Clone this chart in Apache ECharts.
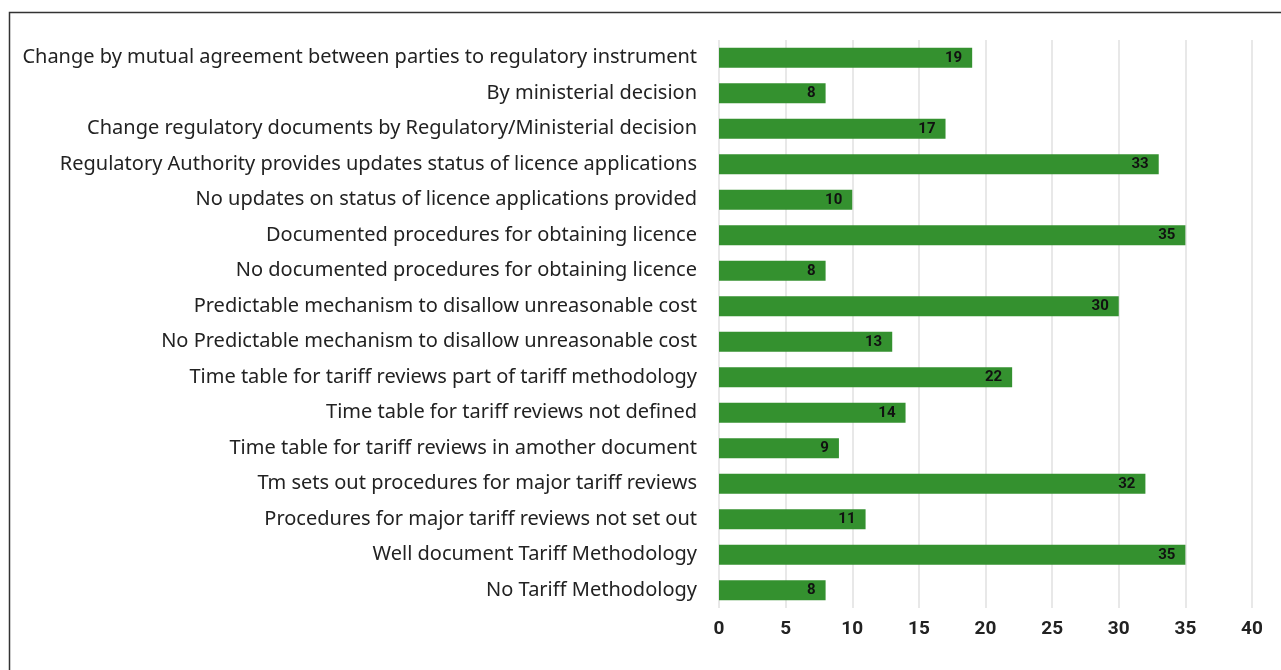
<!DOCTYPE html>
<html>
<head>
<meta charset="utf-8">
<script src="https://cdn.jsdelivr.net/npm/echarts@6/dist/echarts.min.js"></script>
<style>
  html, body { margin: 0; padding: 0; background: #fff; }
  #chart { width: 1281px; height: 670px; }
</style>
</head>
<body>
<div id="chart"></div>
<script>
// Categories listed top to bottom
const categories = [
  'Change by mutual agreement between parties to regulatory instrument',
  'By ministerial decision',
  'Change regulatory documents by Regulatory/Ministerial decision',
  'Regulatory Authority provides updates status of licence applications',
  'No updates on status of licence applications provided',
  'Documented procedures for obtaining licence',
  'No documented procedures for obtaining licence',
  'Predictable mechanism to disallow unreasonable cost',
  'No Predictable mechanism to disallow unreasonable cost',
  'Time table for tariff reviews part of tariff methodology',
  'Time table for tariff reviews not defined',
  'Time table for tariff reviews in amother document',
  'Tm sets out procedures for major tariff reviews',
  'Procedures for major tariff reviews not set out',
  'Well document Tariff Methodology',
  'No Tariff Methodology'
];
const counts = [19, 8, 17, 33, 10, 35, 8, 30, 13, 22, 14, 9, 32, 11, 35, 8];
const xTicks = [0, 5, 10, 15, 20, 25, 30, 35, 40];

const chart = echarts.init(document.getElementById('chart'));
chart.setOption({
  animation: false,
  backgroundColor: '#fff',
  graphic: [{
    type: 'rect',
    shape: { x: 9.5, y: 12.5, width: 1400, height: 1000 },
    style: { fill: 'none', stroke: '#333', lineWidth: 1.5 },
    silent: true
  }],
  grid: { left: 719, right: 29, top: 40, bottom: 62, containLabel: false },
  xAxis: {
    type: 'value',
    min: xTicks[0],
    max: xTicks[xTicks.length - 1],
    interval: 5,
    axisLine: { show: false },
    axisTick: { show: false },
    splitLine: { lineStyle: { color: '#e8e8e8', width: 2 } },
    axisLabel: {
      margin: 12,
      color: '#222',
      fontFamily: 'Roboto, "Noto Sans", sans-serif',
      fontWeight: 'bold',
      fontSize: 19
    }
  },
  yAxis: {
    type: 'category',
    inverse: true,
    data: categories,
    axisLine: { show: false },
    axisTick: { show: false },
    axisLabel: {
      margin: 22,
      color: '#222',
      fontFamily: '"Noto Sans", sans-serif',
      fontSize: 20
    }
  },
  series: [{
    type: 'bar',
    data: counts,
    barWidth: 20,
    itemStyle: { color: '#34912f' },
    label: {
      show: true,
      position: 'insideRight',
      distance: 10,
      color: '#111',
      fontFamily: 'Roboto, "Noto Sans", sans-serif',
      fontWeight: 'bold',
      fontSize: 15
    }
  }]
});
</script>
</body>
</html>
